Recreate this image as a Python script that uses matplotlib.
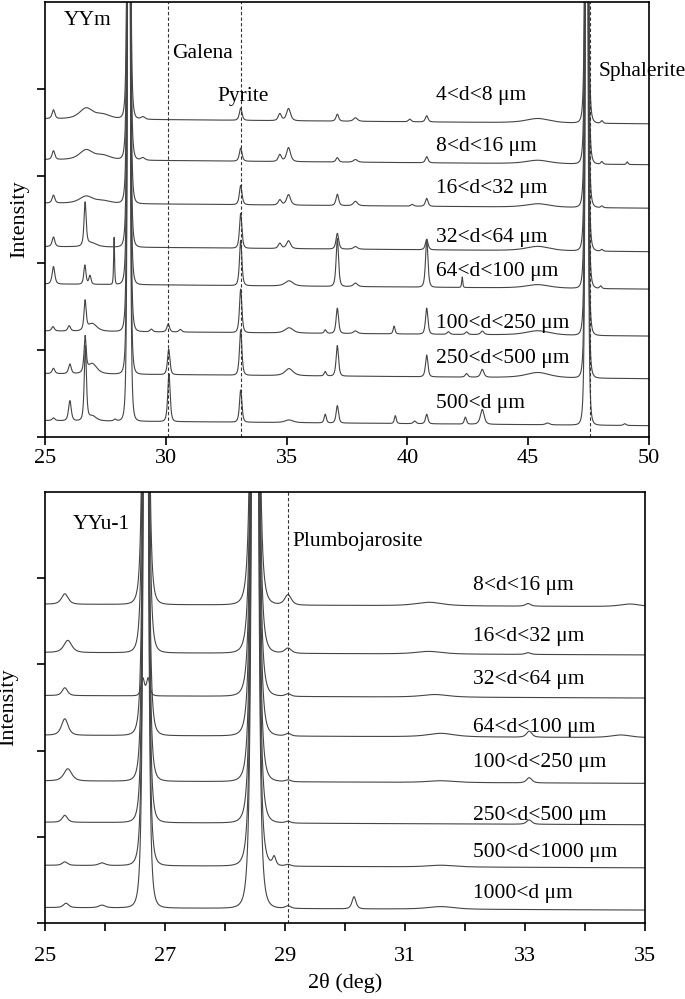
import numpy as np
import matplotlib
matplotlib.use("Agg")
import matplotlib.pyplot as plt

plt.rcParams['font.family'] = ['Liberation Serif', 'DejaVu Serif']

# ---------------- data: YYm (top panel) ----------------
top_names = ["4<d<8 \u03bcm", "8<d<16 \u03bcm", "16<d<32 \u03bcm", "32<d<64 \u03bcm",
             "64<d<100 \u03bcm", "100<d<250 \u03bcm", "250<d<500 \u03bcm", "500<d \u03bcm"]
top_offsets = [360, 313, 263, 213, 170, 116, 67, 13]
# (2theta, height, width) per trace
top_peaks = [
    [(25.35, 10, 0.1), (26.7, 12, 0.5), (27.4, 5, 0.6), (28.47, 2000, 0.06), (29.05, 3, 0.15),
     (33.1, 14, 0.1), (34.72, 8, 0.12), (35.08, 14, 0.15), (37.1, 8, 0.1), (37.85, 4, 0.15),
     (40.1, 3, 0.1), (40.8, 7, 0.1), (45.4, 5, 0.9), (47.42, 2000, 0.06), (48.05, 3, 0.08)],
    [(25.35, 10, 0.1), (26.7, 11, 0.5), (27.4, 5, 0.6), (28.47, 2000, 0.06), (29.05, 3, 0.15),
     (33.1, 15, 0.1), (34.72, 8, 0.12), (35.08, 16, 0.15), (37.1, 5, 0.1), (37.85, 3, 0.15),
     (40.8, 7, 0.1), (45.4, 4, 0.9), (47.42, 2000, 0.06), (48.05, 3, 0.08), (49.1, 3, 0.06)],
    [(25.35, 9, 0.1), (26.7, 8, 0.5), (27.4, 3, 0.6), (28.47, 2000, 0.06), (33.1, 22, 0.1),
     (34.72, 6, 0.12), (35.08, 12, 0.15), (37.1, 13, 0.1), (37.85, 5, 0.15), (40.2, 2, 0.1),
     (40.8, 9, 0.1), (45.4, 4, 0.9), (47.42, 2000, 0.06), (48.05, 2, 0.08)],
    [(25.35, 11, 0.1), (26.66, 49, 0.08), (26.9, 5, 0.4), (28.47, 2000, 0.06), (33.1, 40, 0.09),
     (34.72, 6, 0.12), (35.08, 9, 0.15), (37.1, 18, 0.1), (37.85, 3, 0.15), (40.8, 12, 0.1),
     (45.4, 5, 0.9), (47.42, 2000, 0.06), (48.05, 2, 0.08)],
    [(25.35, 20, 0.1), (26.65, 22, 0.08), (26.86, 10, 0.08), (27.86, 54, 0.035), (28.47, 2000, 0.06),
     (33.1, 52, 0.09), (35.1, 6, 0.3), (37.1, 55, 0.09), (37.85, 4, 0.15), (40.8, 55, 0.09),
     (42.27, 12, 0.04), (45.4, 4, 0.9), (47.42, 2000, 0.06), (48.0, 3, 0.08)],
    [(25.33, 5, 0.1), (26.0, 6, 0.1), (26.66, 33, 0.08), (26.95, 9, 0.35), (28.47, 2000, 0.06),
     (29.4, 3, 0.1), (30.1, 9, 0.1), (30.6, 3, 0.1), (33.1, 50, 0.09), (35.1, 6, 0.3),
     (36.6, 4, 0.08), (37.1, 29, 0.09), (37.85, 3, 0.15), (39.45, 9, 0.07), (40.8, 30, 0.09),
     (41.7, 3, 0.1), (42.45, 3, 0.1), (43.1, 4, 0.12), (45.4, 5, 0.9), (47.42, 2000, 0.06)],
    [(25.35, 6, 0.1), (26.03, 11, 0.1), (26.66, 40, 0.08), (26.95, 12, 0.35), (28.47, 2000, 0.06),
     (30.12, 29, 0.09), (33.1, 52, 0.09), (35.1, 8, 0.3), (36.6, 5, 0.08), (37.1, 35, 0.09),
     (40.8, 25, 0.09), (42.45, 4, 0.1), (43.1, 9, 0.12), (45.4, 6, 0.9), (47.42, 2000, 0.06)],
    [(25.35, 3, 0.1), (26.03, 23, 0.1), (26.67, 85, 0.08), (26.95, 6, 0.3), (27.9, 2, 0.1),
     (28.47, 2000, 0.06), (30.13, 55, 0.09), (33.1, 37, 0.09), (35.1, 3, 0.3), (36.6, 10, 0.08),
     (37.1, 20, 0.09), (39.5, 9, 0.07), (40.3, 3, 0.1), (40.8, 11, 0.09), (42.4, 8, 0.08),
     (43.1, 17, 0.14), (45.8, 2, 0.15), (47.42, 2000, 0.06), (49.0, 2, 0.1)],
]
top_phases = ["Galena", "Pyrite", "Sphalerite"]
top_phase_pos = [30.1, 33.1, 47.56]

# ---------------- data: YYu-1 (bottom panel) ----------------
bot_names = ["8<d<16 \u03bcm", "16<d<32 \u03bcm", "32<d<64 \u03bcm", "64<d<100 \u03bcm",
             "100<d<250 \u03bcm", "250<d<500 \u03bcm", "500<d<1000 \u03bcm", "1000<d \u03bcm"]
bot_offsets = [367, 311, 261, 215, 162, 114, 64, 15]
bot_peaks = [
    [(25.33, 12, 0.1), (26.68, 1500, 0.05), (28.5, 2000, 0.06), (29.05, 12, 0.1),
     (31.4, 4, 0.4), (33.05, 3, 0.08), (34.75, 3, 0.3)],
    [(25.38, 14, 0.12), (26.68, 1500, 0.05), (28.5, 2000, 0.06), (29.05, 6, 0.1),
     (31.4, 3, 0.4), (33.05, 2, 0.08)],
    [(25.33, 9, 0.08), (26.63, 20, 0.05), (26.72, 20, 0.05), (28.5, 2000, 0.06),
     (29.05, 3, 0.08), (31.5, 3, 0.4)],
    [(25.33, 19, 0.1), (26.68, 1500, 0.05), (28.5, 2000, 0.06), (29.05, 3, 0.08),
     (31.6, 4, 0.4), (33.07, 7, 0.08), (34.6, 3, 0.3)],
    [(25.38, 14, 0.12), (26.68, 1500, 0.05), (28.5, 2000, 0.06), (29.05, 2, 0.08),
     (31.6, 2, 0.4), (33.07, 6, 0.08)],
    [(25.33, 8, 0.08), (26.68, 1500, 0.05), (28.5, 2000, 0.06), (29.05, 2, 0.08),
     (33.07, 5, 0.08)],
    [(25.33, 4, 0.08), (25.95, 3, 0.1), (26.68, 1500, 0.05), (28.5, 2000, 0.06),
     (28.82, 10, 0.05), (29.05, 2, 0.08), (31.6, 2, 0.4)],
    [(25.35, 5, 0.08), (25.95, 3, 0.1), (26.68, 1500, 0.05), (28.5, 2000, 0.06),
     (29.05, 3, 0.08), (30.15, 14, 0.06), (31.6, 3, 0.4)],
]
bot_phases = ["Plumbojarosite"]
bot_phase_pos = [29.05]


def pattern(x, peaks):
    y = np.zeros_like(x)
    for c, h, w in peaks:
        y += h / (1 + ((x - c) / w) ** 2) ** 2
    return y


LC = '#454545'
FS = 15.5
fig = plt.figure(figsize=(6.85, 9.99), dpi=100)
ax1 = fig.add_axes([0.0657, 0.5626, 0.8817, 0.4354])
ax2 = fig.add_axes([0.0657, 0.0761, 0.8759, 0.4314])

# top panel
x1 = np.linspace(25, 50, 6000)
for off, pk in zip(top_offsets, top_peaks):
    ax1.plot(x1, off + 6 * (50 - x1) / 25 + pattern(x1, pk), color=LC, lw=0.8)
for p in top_phase_pos:
    ax1.axvline(p, color='#333333', lw=0.8, ls=(0, (3, 2)))
top_label_y = [393, 334, 286, 229, 190, 131, 90, 39]
for name, ly in zip(top_names, top_label_y):
    ax1.text(41.2, ly, name, fontsize=FS, va='center', ha='left')
ax1.text(26.75, 479, "YYm", fontsize=FS, ha='center', va='center')
ax1.text(30.25, 441, top_phases[0], fontsize=FS, ha='left', va='center')
ax1.text(33.2, 391, top_phases[1], fontsize=FS, ha='center', va='center')
ax1.text(47.9, 420, top_phases[2], fontsize=FS, ha='left', va='center', clip_on=False)
ax1.set_xlim(25, 50)
ax1.set_ylim(0, 500)
ax1.set_xticks(np.arange(25, 51, 5))
ax1.set_yticks(np.arange(0, 401, 100))
ax1.set_yticklabels([])
ax1.tick_params(direction='out', length=6, width=1.2, labelsize=16, pad=3)
ax1.set_ylabel("Intensity", fontsize=16, labelpad=2)

# bottom panel
x2 = np.linspace(25, 35, 6000)
for off, pk in zip(bot_offsets, bot_peaks):
    ax2.plot(x2, off + 3 * (35 - x2) / 10 + pattern(x2, pk), color=LC, lw=0.8)
for p in bot_phase_pos:
    ax2.axvline(p, color='#333333', lw=0.8, ls=(0, (3, 2)))
bot_label_y = [391, 332, 283, 227, 186, 125, 82, 34]
for name, ly in zip(bot_names, bot_label_y):
    ax2.text(32.13, ly, name, fontsize=FS, va='center', ha='left')
ax2.text(25.47, 462, "YYu-1", fontsize=FS, ha='left', va='center')
ax2.text(29.13, 442, bot_phases[0], fontsize=FS, ha='left', va='center')
ax2.set_xlim(25, 35)
ax2.set_ylim(0, 500)
ax2.set_xticks(np.arange(25, 36, 2))
ax2.set_xticks(np.arange(26, 35, 2), minor=True)
ax2.set_yticks(np.arange(0, 401, 100))
ax2.set_yticklabels([])
ax2.tick_params(which='both', direction='out', length=6, width=1.2, labelsize=16, pad=11)
ax2.set_ylabel("Intensity", fontsize=16, labelpad=2)
ax2.set_xlabel("2\u03b8 (deg)", fontsize=16, labelpad=5)

for ax in (ax1, ax2):
    for s in ax.spines.values():
        s.set_linewidth(1.2)

fig.savefig("out.png", dpi=100)
